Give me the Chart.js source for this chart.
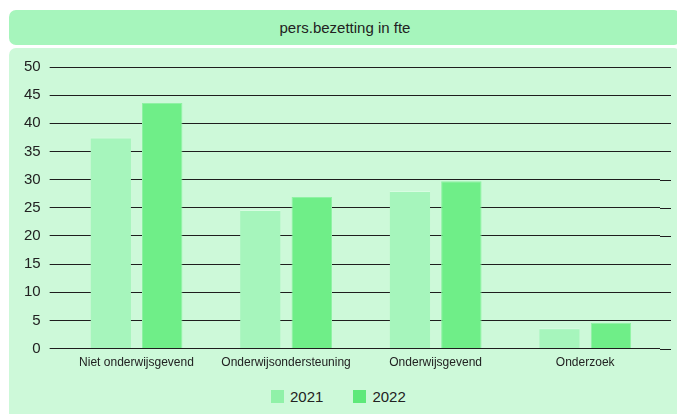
<!DOCTYPE html>
<html>
<head>
<meta charset="utf-8">
<script src="https://cdn.jsdelivr.net/npm/chart.js@4/dist/chart.umd.min.js"></script>
<style>
  html, body { margin: 0; padding: 0; background: #fff; width: 677px; height: 414px; overflow: hidden; }
  body { position: relative; font-family: "Liberation Sans", Arial, sans-serif; color: #222; }
  .title {
    position: absolute; left: 9px; top: 10px; width: 672px; height: 35px;
    background: #a6f5bc; border-radius: 7px;
    font-size: 15px; line-height: 35px; text-align: center; color: #222;
  }
  .panel {
    position: absolute; left: 9px; top: 48px; width: 672px; height: 372px;
    background: #cdf9d9; border-radius: 7px;
  }
  .chart-box { position: absolute; left: 0; top: 0; width: 672px; height: 329px; }
  .legend {
    position: absolute; left: 262px; top: 340px; height: 17px;
    display: flex; align-items: center; font-size: 15px; color: #222;
  }
  .legend .item { display: flex; align-items: center; margin-right: 30px; }
  .legend .sw { width: 13px; height: 13px; margin-right: 6px; }
</style>
</head>
<body>
<div class="title">pers.bezetting in fte</div>
<div class="panel">
  <div class="chart-box"><canvas id="chart"></canvas></div>
  <div class="legend" id="legend"></div>
</div>
<script>
// data
const categories = ["Niet onderwijsgevend", "Onderwijsondersteuning", "Onderwijsgevend", "Onderzoek"];
const years = ["2021", "2022"];
const values2021 = [37.5, 24.6, 28.0, 3.6];
const values2022 = [43.6, 26.9, 29.7, 4.6];
const yTicks = [0, 5, 10, 15, 20, 25, 30, 35, 40, 45, 50];

const FONT = "'Liberation Sans', Arial, sans-serif";
const BAR_COLORS = ["#a6f5bc", "#6fee88"];
const BAR_EDGES = ["#d8fde2", "#8ff2a4"];
const KEY_COLORS = ["#90f1a8", "#5ee97a"];

// y-rasterlijnen lopen rechts iets voorbij het plotvlak
const extendGrid = {
  id: "extendGrid",
  beforeDatasetsDraw(chart) {
    const { ctx, chartArea, scales } = chart;
    ctx.save();
    ctx.strokeStyle = "#1e1e1e";
    ctx.lineWidth = 1;
    yTicks.forEach((v) => {
      const y = Math.round(scales.y.getPixelForValue(v)) + 0.5;
      ctx.beginPath();
      ctx.moveTo(chartArea.right, y);
      ctx.lineTo(chartArea.right + 11, y);
      ctx.stroke();
    });
    ctx.restore();
  },
};

const chart = new Chart(document.getElementById("chart"), {
  type: "bar",
  data: {
    labels: categories,
    datasets: [
      {
        label: years[0],
        data: values2021,
        backgroundColor: BAR_COLORS[0],
        borderColor: BAR_EDGES[0],
        borderWidth: { top: 1, left: 0, right: 0, bottom: 0 },
        borderSkipped: "bottom",
      },
      {
        label: years[1],
        data: values2022,
        backgroundColor: BAR_COLORS[1],
        borderColor: BAR_EDGES[1],
        borderWidth: 1,
        borderSkipped: "bottom",
      },
    ],
  },
  options: {
    responsive: true,
    maintainAspectRatio: false,
    animation: false,
    categoryPercentage: 0.688,
    barPercentage: 0.786,
    layout: { padding: { left: 6, right: 21, top: 19, bottom: 0 } },
    plugins: {
      legend: { display: false },
      tooltip: { enabled: false },
    },
    scales: {
      x: {
        grid: { display: false, drawTicks: false },
        border: { display: false },
        ticks: { font: { size: 12, family: FONT }, color: "#222", padding: 7 },
      },
      y: {
        min: 0,
        max: 50,
        afterBuildTicks: (axis) => { axis.ticks = yTicks.map((v) => ({ value: v })); },
        grid: { color: "#1e1e1e", lineWidth: 1, tickLength: 12, drawTicks: true },
        border: { display: false },
        ticks: { font: { size: 15, family: FONT }, color: "#222", padding: 9 },
      },
    },
  },
  plugins: [extendGrid],
});

// legenda onder de grafiek
document.getElementById("legend").innerHTML = chart.data.datasets
  .map((d, i) => `<div class="item"><div class="sw" style="background:${KEY_COLORS[i]}"></div><span>${d.label}</span></div>`)
  .join("");
</script>
</body>
</html>
